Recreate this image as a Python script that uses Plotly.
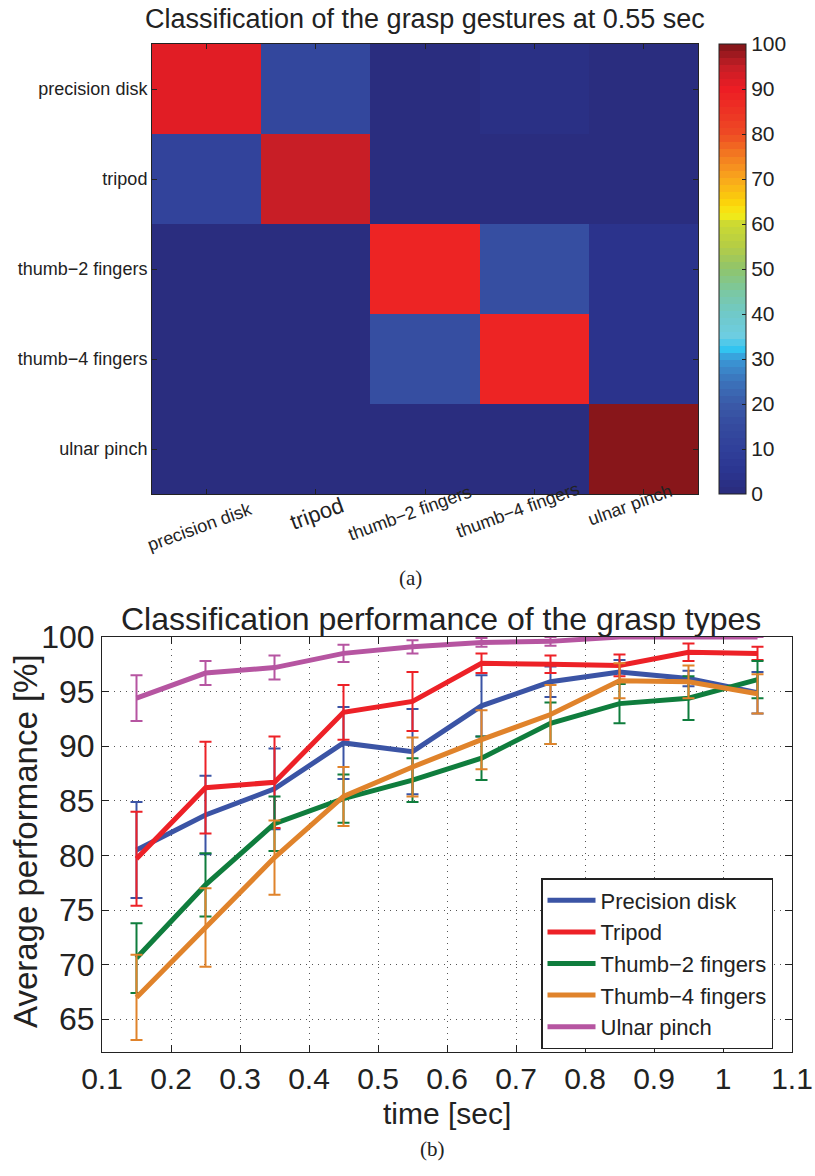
import numpy as np
import plotly.graph_objects as go

# ---------------- data ----------------
grasp_labels = ["precision disk", "tripod", "thumb\u22122 fingers", "thumb\u22124 fingers", "ulnar pinch"]

# confusion matrix (%) at 0.55 s, rows = true class, cols = predicted class
confusion = [
    [91, 14, 0, 3, 0],
    [12, 95, 0, 0, 0],
    [0, 0, 88, 17, 4],
    [0, 0, 17, 88, 4],
    [0, 0, 0, 0, 99],
]

time_sec = [0.15, 0.25, 0.35, 0.45, 0.55, 0.65, 0.75, 0.85, 0.95, 1.05]

series_names = ["Precision disk", "Tripod", "Thumb\u22122 fingers", "Thumb\u22124 fingers", "Ulnar pinch"]

precision_mean = [80.5, 83.7, 86.1, 90.3, 89.5, 93.7, 95.9, 96.8, 96.2, 94.9]
precision_err = [4.4, 3.6, 3.7, 3.3, 3.9, 2.8, 1.4, 1.1, 0.7, 1.9]

tripod_mean = [79.7, 86.2, 86.7, 93.1, 94.1, 97.6, 97.5, 97.4, 98.6, 98.5]
tripod_err = [4.3, 4.2, 4.2, 2.5, 2.7, 0.9, 0.8, 1.0, 0.8, 0.6]

thumb2_mean = [70.6, 77.3, 82.9, 85.2, 86.9, 88.9, 92.1, 93.9, 94.4, 96.1]
thumb2_err = [3.2, 2.9, 2.5, 2.2, 2.0, 2.0, 1.9, 1.8, 2.0, 1.7]

thumb4_mean = [67.0, 73.4, 79.8, 85.4, 88.1, 90.6, 92.9, 96.0, 95.9, 94.8]
thumb4_err = [3.9, 3.6, 3.4, 2.7, 2.7, 2.7, 2.7, 1.6, 1.5, 1.8]

ulnar_mean = [94.4, 96.7, 97.2, 98.5, 99.1, 99.5, 99.6, 100.0, 100.0, 100.0]
ulnar_err = [2.1, 1.1, 1.1, 0.8, 0.6, 0.4, 0.4, 0.0, 0.0, 0.0]

colorbar_ticks = [0, 10, 20, 30, 40, 50, 60, 70, 80, 90, 100]
time_ticks = [0.1, 0.2, 0.3, 0.4, 0.5, 0.6, 0.7, 0.8, 0.9, 1.0, 1.1]
time_tick_text = ["0.1", "0.2", "0.3", "0.4", "0.5", "0.6", "0.7", "0.8", "0.9", "1", "1.1"]
perf_ticks = [65, 70, 75, 80, 85, 90, 95, 100]

# ---------------- styling ----------------
FONT = "Liberation Sans, Arial, Helvetica, sans-serif"
SERIF = "Liberation Serif, DejaVu Serif, serif"
INK = "#222"
W, H = 815, 1176

# jet-like palette, sampled into 64 flat bands
jet_anchors = [
    (0, "#2a2c7c"), (5, "#2b3590"), (10, "#30409a"), (15, "#354a9e"),
    (20, "#3a5aa8"), (25, "#3b73bb"), (30, "#3a9ad7"), (32, "#31c4f0"),
    (35, "#6dcde2"), (40, "#70c9c8"), (45, "#7bc8a1"), (50, "#8fc46c"),
    (55, "#b5cd45"), (60, "#cbd933"), (62, "#f5ec16"), (65, "#fbd20a"),
    (70, "#f9a81c"), (75, "#f37d21"), (80, "#ee4a24"), (85, "#ed3324"),
    (90, "#ed1c24"), (95, "#c41e26"), (100, "#7d1518"),
]


def _hex(c):
    return np.array([int(c[i:i + 2], 16) for i in (1, 3, 5)], dtype=float)


def jet_at(v):
    xs = [a[0] for a in jet_anchors]
    cols = np.array([_hex(a[1]) for a in jet_anchors])
    rgb = [np.interp(v, xs, cols[:, k]) for k in range(3)]
    return "rgb(%d,%d,%d)" % tuple(int(round(c)) for c in rgb)


n_bands = 64
colorscale = []
for i in range(n_bands):
    col = jet_at((i + 0.5) / n_bands * 100)
    colorscale.append([i / n_bands, col])
    colorscale.append([(i + 1) / n_bands, col])


def px_x(p):
    return p / W


def px_y(p):
    return 1 - p / H


hm_left, hm_right, hm_top, hm_bottom = 152, 698, 44, 494
ln_left, ln_right, ln_top, ln_bottom = 102, 792, 637, 1052

# placement tweaks for the slanted category labels (pixel shifts / centre rows)
label_xshift = [-7, 1, -15, -16, -13]
label_row = [527, 513, 513, 510, 505]

fig = go.Figure()

# ---------------- confusion matrix ----------------
fig.add_trace(go.Heatmap(
    z=confusion,
    x=list(range(5)),
    y=list(range(5)),
    zmin=0, zmax=100,
    colorscale=colorscale,
    xaxis="x", yaxis="y",
    showscale=True,
    hoverinfo="z",
    colorbar=dict(
        x=px_x(719), xanchor="left",
        y=px_y((hm_top + hm_bottom) / 2), yanchor="middle",
        len=(hm_bottom - hm_top) / H, lenmode="fraction",
        thickness=27, thicknessmode="pixels",
        outlinewidth=1, outlinecolor=INK,
        tickvals=colorbar_ticks,
        ticks="inside", ticklen=4, tickcolor=INK,
        tickfont=dict(family=FONT, size=21, color=INK),
        xpad=0, ypad=0,
    ),
))

# ---------------- performance curves ----------------
line_colors = ["#3b54a5", "#ed2127", "#0f7d3d", "#e0832b", "#b655a1"]
means = [precision_mean, tripod_mean, thumb2_mean, thumb4_mean, ulnar_mean]
errs = [precision_err, tripod_err, thumb2_err, thumb4_err, ulnar_err]

for name, m, e, c in zip(series_names, means, errs, line_colors):
    fig.add_trace(go.Scatter(
        x=time_sec, y=m, name=name, mode="lines",
        line=dict(color=c, width=5),
        error_y=dict(type="data", array=e, visible=True, color=c,
                     thickness=2, width=6),
        xaxis="x2", yaxis="y2",
    ))

axis_common = dict(showline=True, linecolor=INK, linewidth=1, mirror="ticks",
                   ticks="inside", tickcolor=INK, zeroline=False, automargin=False)

fig.update_layout(
    width=W, height=H,
    margin=dict(l=0, r=0, t=0, b=0),
    paper_bgcolor="white", plot_bgcolor="white",
    font=dict(family=FONT, color=INK),
    xaxis=dict(
        domain=[px_x(hm_left), px_x(hm_right)], anchor="y",
        range=[-0.5, 4.5], tickvals=list(range(5)), showticklabels=False,
        showgrid=False, ticklen=5, **axis_common,
    ),
    yaxis=dict(
        domain=[px_y(hm_bottom), px_y(hm_top)], anchor="x",
        range=[4.5, -0.5], tickvals=list(range(5)), ticktext=grasp_labels,
        tickfont=dict(size=18, family=FONT, color=INK),
        showgrid=False, ticklen=5, **axis_common,
    ),
    xaxis2=dict(
        domain=[px_x(ln_left), px_x(ln_right)], anchor="y2",
        range=[0.1, 1.1], tickvals=time_ticks, ticktext=time_tick_text,
        tickfont=dict(size=30, family=FONT, color=INK),
        showgrid=True, gridcolor="#555", gridwidth=1, griddash="1px,5px",
        ticklen=7, **axis_common,
    ),
    yaxis2=dict(
        domain=[px_y(ln_bottom), px_y(ln_top)], anchor="x2",
        range=[62, 100], tickvals=perf_ticks,
        tickfont=dict(size=32, family=FONT, color=INK),
        showgrid=True, gridcolor="#555", gridwidth=1, griddash="1px,5px",
        ticklen=7, **axis_common,
    ),
    legend=dict(
        x=px_x(541), y=px_y(878), xanchor="left", yanchor="top",
        bgcolor="white", bordercolor=INK, borderwidth=1.5,
        font=dict(size=22, family=FONT, color=INK),
        tracegroupgap=0, itemwidth=48,
    ),
    showlegend=True,
)

annotations = []
# titles
annotations.append(dict(
    text="Classification of the grasp gestures at 0.55 sec",
    x=px_x((hm_left + hm_right) / 2), y=px_y(19), xref="paper", yref="paper",
    xanchor="center", yanchor="middle", showarrow=False,
    font=dict(size=27, family=FONT, color=INK),
))
annotations.append(dict(
    text="Classification performance of the grasp types",
    x=px_x(441), y=px_y(619), xref="paper", yref="paper",
    xanchor="center", yanchor="middle", showarrow=False,
    font=dict(size=32, family=FONT, color=INK),
))
# axis titles of the performance plot
annotations.append(dict(
    text="time [sec]",
    x=px_x((ln_left + ln_right) / 2), y=px_y(1113), xref="paper", yref="paper",
    xanchor="center", yanchor="middle", showarrow=False,
    font=dict(size=30, family=FONT, color=INK),
))
annotations.append(dict(
    text="Average performance [%]",
    x=px_x(25), y=px_y(841), xref="paper", yref="paper",
    xanchor="center", yanchor="middle", showarrow=False, textangle=-90,
    font=dict(size=33, family=FONT, color=INK),
))
# rotated category labels under the matrix
for i, lab in enumerate(grasp_labels):
    annotations.append(dict(
        text=lab, x=i, xref="x", y=px_y(label_row[i]), yref="paper",
        xanchor="center", yanchor="middle", showarrow=False, textangle=-20,
        xshift=label_xshift[i],
        font=dict(size=22 if lab == "tripod" else 18, family=FONT, color=INK),
    ))
# sub-figure captions
annotations.append(dict(
    text="(a)", x=px_x(410), y=px_y(578), xref="paper", yref="paper",
    xanchor="center", yanchor="middle",
    showarrow=False, font=dict(size=21, family=SERIF, color=INK),
))
annotations.append(dict(
    text="(b)", x=px_x(432), y=px_y(1149), xref="paper", yref="paper",
    xanchor="center", yanchor="middle",
    showarrow=False, font=dict(size=21, family=SERIF, color=INK),
))
fig.update_layout(annotations=annotations)

fig.write_html("out.html")
